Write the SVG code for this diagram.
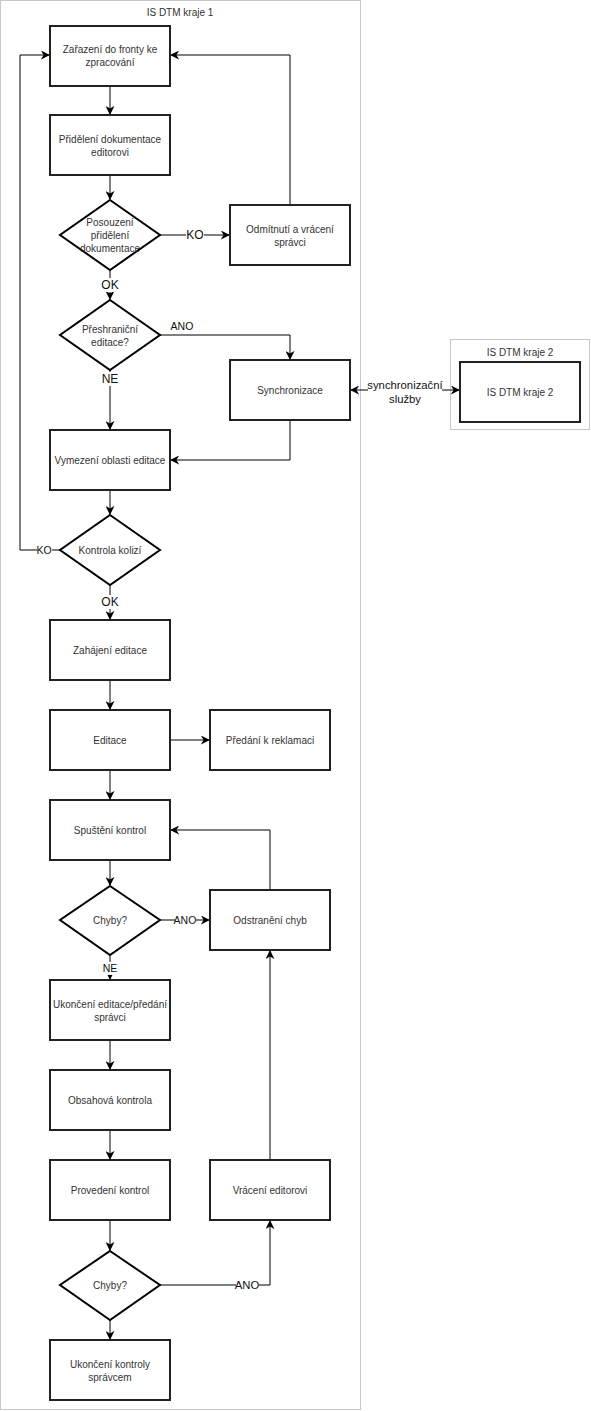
<svg xmlns="http://www.w3.org/2000/svg" width="591" height="1411" viewBox="0 0 591 1411">
<style>
.c{fill:#fff;stroke:#c8c8c8;stroke-width:1}
.b{fill:#fff;stroke:#222;stroke-width:2}
.d{fill:#fff;stroke:#000;stroke-width:2}
.t{font-family:"Liberation Sans",Arial,sans-serif;font-size:10px;fill:#333;text-anchor:middle;dominant-baseline:central}
.l{font-family:"Liberation Sans",Arial,sans-serif;font-size:10.5px;fill:#111;text-anchor:middle;dominant-baseline:central}
.L{font-size:12px}
.S{font-size:11.3px}
.e{fill:none;stroke:#000;stroke-width:1}
.bg{fill:#fff}
</style>
<defs>
<marker id="a" viewBox="0 0 10 10" refX="9" refY="5" markerWidth="9" markerHeight="9" markerUnits="userSpaceOnUse" orient="auto-start-reverse">
<path d="M0,0 L10,5 L0,10 L3,5 Z" fill="#000"/>
</marker>
</defs>
<g id="container1">
<rect class="c" x="0.5" y="0.5" width="360" height="1409"/>
<text class="t" x="180" y="12">IS DTM kraje 1</text>
</g>
<g id="container2">
<rect class="c" x="450.5" y="339.5" width="139" height="90"/>
<text class="t" x="520" y="352">IS DTM kraje 2</text>
</g>
<g id="connectors">
<path class="e" d="M110,86 V114" marker-end="url(#a)"/>
<path class="e" d="M110,175 V199" marker-end="url(#a)"/>
<path class="e" d="M160,235 H229" marker-end="url(#a)"/>
<path class="e" d="M290,205 V55 H171" marker-end="url(#a)"/>
<path class="e" d="M110,270 V299" marker-end="url(#a)"/>
<path class="e" d="M160,335 H290 V359" marker-end="url(#a)"/>
<path class="e" d="M110,370 V429" marker-end="url(#a)"/>
<path class="e" d="M290,420 V460 H171" marker-end="url(#a)"/>
<path class="e" d="M351,390 H459" marker-start="url(#a)" marker-end="url(#a)"/>
<path class="e" d="M110,490 V514" marker-end="url(#a)"/>
<path class="e" d="M60,550 H20 V55 H49" marker-end="url(#a)"/>
<path class="e" d="M110,585 V619" marker-end="url(#a)"/>
<path class="e" d="M110,680 V709" marker-end="url(#a)"/>
<path class="e" d="M170,740 H209" marker-end="url(#a)"/>
<path class="e" d="M110,770 V799" marker-end="url(#a)"/>
<path class="e" d="M110,860 V885" marker-end="url(#a)"/>
<path class="e" d="M160,920 H209" marker-end="url(#a)"/>
<path class="e" d="M270,890 V830 H171" marker-end="url(#a)"/>
<path class="e" d="M110,955 V979" marker-end="url(#a)"/>
<path class="e" d="M270,1160 V951" marker-end="url(#a)"/>
<path class="e" d="M110,1040 V1069" marker-end="url(#a)"/>
<path class="e" d="M110,1130 V1159" marker-end="url(#a)"/>
<path class="e" d="M110,1220 V1250" marker-end="url(#a)"/>
<path class="e" d="M160,1285 H270 V1221" marker-end="url(#a)"/>
<path class="e" d="M110,1320 V1339" marker-end="url(#a)"/>
<rect class="bg" x="186" y="228" width="18" height="14"/>
<text class="l L" x="195" y="235">KO</text>
<rect class="bg" x="101" y="278" width="18" height="14"/>
<text class="l L" x="110" y="285">OK</text>
<text class="l" x="182" y="326">ANO</text>
<rect class="bg" x="101" y="372" width="18" height="14"/>
<text class="l L" x="110" y="379">NE</text>
<rect class="bg" x="368" y="377" width="74" height="30"/>
<text class="l S" x="405" y="385">synchronizační</text>
<text class="l S" x="405" y="399">služby</text>
<rect class="bg" x="37" y="544" width="15" height="13"/>
<text class="l" x="44" y="550">KO</text>
<rect class="bg" x="101" y="595" width="18" height="14"/>
<text class="l L" x="110" y="602">OK</text>
<rect class="bg" x="175" y="914" width="21" height="13"/>
<text class="l" x="185" y="920">ANO</text>
<rect class="bg" x="102" y="962" width="16" height="13"/>
<text class="l" x="110" y="968">NE</text>
<rect class="bg" x="236" y="1278" width="23" height="14"/>
<text class="l S" x="247" y="1285">ANO</text>
</g>
<g id="n1"><rect class="b" x="50" y="26" width="120" height="60"/><text class="t" x="110" y="49">Zařazení do fronty ke</text><text class="t" x="110" y="62">zpracování</text></g>
<g id="n2"><rect class="b" x="50" y="115" width="120" height="60"/><text class="t" x="110" y="139">Přidělení dokumentace</text><text class="t" x="110" y="152">editorovi</text></g>
<g id="n3"><path class="d" d="M110,200 L160,235 L110,270 L60,235 Z"/><text class="t" x="110" y="222">Posouzení</text><text class="t" x="110" y="235">přidělení</text><text class="t" x="110" y="248">dokumentace</text></g>
<g id="n4"><rect class="b" x="230" y="205" width="120" height="60"/><text class="t" x="290" y="229">Odmítnutí a vrácení</text><text class="t" x="290" y="242">správci</text></g>
<g id="n5"><path class="d" d="M110,300 L160,335 L110,370 L60,335 Z"/><text class="t" x="110" y="329">Přeshraniční</text><text class="t" x="110" y="342">editace?</text></g>
<g id="n6"><rect class="b" x="230" y="360" width="120" height="60"/><text class="t" x="290" y="390">Synchronizace</text></g>
<g id="n7"><rect class="b" x="460" y="362" width="120" height="60"/><text class="t" x="520" y="392">IS DTM kraje 2</text></g>
<g id="n8"><rect class="b" x="50" y="430" width="120" height="60"/><text class="t" x="110" y="460">Vymezení oblasti editace</text></g>
<g id="n9"><path class="d" d="M110,515 L160,550 L110,585 L60,550 Z"/><text class="t" x="110" y="550">Kontrola kolizí</text></g>
<g id="n10"><rect class="b" x="50" y="620" width="120" height="60"/><text class="t" x="110" y="650">Zahájení editace</text></g>
<g id="n11"><rect class="b" x="50" y="710" width="120" height="60"/><text class="t" x="110" y="740">Editace</text></g>
<g id="n12"><rect class="b" x="210" y="710" width="120" height="60"/><text class="t" x="270" y="740">Předání k reklamaci</text></g>
<g id="n13"><rect class="b" x="50" y="800" width="120" height="60"/><text class="t" x="110" y="830">Spuštění kontrol</text></g>
<g id="n14"><path class="d" d="M110,886 L160,920 L110,955 L60,920 Z"/><text class="t" x="110" y="920">Chyby?</text></g>
<g id="n15"><rect class="b" x="210" y="890" width="120" height="60"/><text class="t" x="270" y="920">Odstranění chyb</text></g>
<g id="n16"><rect class="b" x="50" y="980" width="120" height="60"/><text class="t" x="110" y="1004">Ukončení editace/předání</text><text class="t" x="110" y="1017">správci</text></g>
<g id="n17"><rect class="b" x="50" y="1070" width="120" height="60"/><text class="t" x="110" y="1100">Obsahová kontrola</text></g>
<g id="n18"><rect class="b" x="50" y="1160" width="120" height="60"/><text class="t" x="110" y="1190">Provedení kontrol</text></g>
<g id="n19"><rect class="b" x="210" y="1160" width="120" height="60"/><text class="t" x="270" y="1190">Vrácení editorovi</text></g>
<g id="n20"><path class="d" d="M110,1251 L160,1285 L110,1320 L60,1285 Z"/><text class="t" x="110" y="1285">Chyby?</text></g>
<g id="n21"><rect class="b" x="50" y="1340" width="120" height="60"/><text class="t" x="110" y="1364">Ukončení kontroly</text><text class="t" x="110" y="1377">správcem</text></g>
</svg>
